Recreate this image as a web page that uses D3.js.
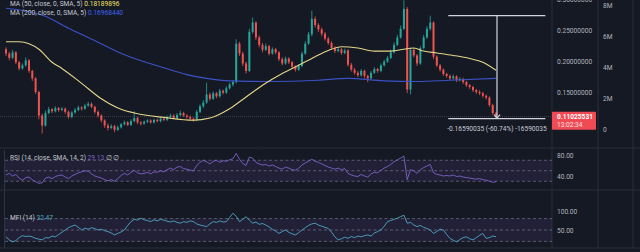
<!DOCTYPE html>
<html>
<head>
<meta charset="utf-8">
<script src="https://cdn.jsdelivr.net/npm/d3@7"></script>
<style>
  html, body { margin: 0; padding: 0; background: #151924; }
  svg { display: block; font-family: Roboto, "Noto Sans", sans-serif; }
</style>
</head>
<body>
<div id="chart"></div>
<script>
// candles: open of each bar is the previous close
var firstOpen = 0.219;
var closes = [
  0.212,0.205,0.214,0.198,0.188,0.193,0.201,0.184,0.172,0.150,
  0.112,0.096,0.116,0.122,0.119,0.124,0.121,0.123,0.118,0.110,
  0.117,0.121,0.125,0.123,0.128,0.131,0.126,0.118,0.112,0.104,
  0.096,0.092,0.095,0.089,0.093,0.098,0.101,0.097,0.103,0.108,
  0.101,0.099,0.102,0.104,0.101,0.105,0.103,0.107,0.105,0.109,
  0.112,0.108,0.113,0.116,0.112,0.110,0.107,0.104,0.118,0.127,
  0.133,0.146,0.139,0.148,0.143,0.152,0.149,0.156,0.162,0.166,
  0.228,0.212,0.196,0.184,0.247,0.262,0.238,0.226,0.218,0.224,
  0.212,0.219,0.214,0.203,0.196,0.204,0.198,0.191,0.186,0.192,
  0.212,0.228,0.243,0.268,0.258,0.251,0.244,0.236,0.229,0.221,
  0.216,0.219,0.213,0.217,0.194,0.186,0.181,0.177,0.184,0.176,
  0.172,0.181,0.187,0.184,0.193,0.199,0.205,0.214,0.226,0.238,
  0.252,0.284,0.154,0.218,0.209,0.196,0.221,0.238,0.252,0.262,
  0.207,0.193,0.186,0.179,0.176,0.172,0.175,0.169,0.171,0.166,
  0.161,0.158,0.153,0.150,0.148,0.144,0.141,0.129,0.116,0.1103
];
var highs = [
  0.222,0.215,0.218,0.216,0.200,0.196,0.206,0.203,0.186,0.174,
  0.152,0.115,0.120,0.126,0.124,0.127,0.126,0.126,0.125,0.120,
  0.119,0.124,0.128,0.127,0.131,0.134,0.133,0.128,0.120,0.114,
  0.106,0.099,0.098,0.097,0.096,0.100,0.104,0.103,0.106,0.119,
  0.110,0.103,0.104,0.106,0.106,0.107,0.107,0.110,0.109,0.112,
  0.115,0.114,0.116,0.120,0.118,0.114,0.112,0.109,0.121,0.130,
  0.137,0.165,0.149,0.151,0.150,0.155,0.154,0.159,0.165,0.169,
  0.235,0.231,0.215,0.199,0.252,0.270,0.264,0.241,0.229,0.228,
  0.226,0.222,0.221,0.216,0.206,0.207,0.206,0.200,0.193,0.195,
  0.215,0.232,0.247,0.281,0.272,0.261,0.254,0.247,0.239,0.232,
  0.224,0.222,0.221,0.220,0.219,0.197,0.189,0.184,0.187,0.186,
  0.178,0.184,0.190,0.189,0.196,0.202,0.208,0.218,0.230,0.242,
  0.257,0.298,0.287,0.222,0.221,0.211,0.224,0.242,0.256,0.273,
  0.264,0.209,0.195,0.188,0.181,0.178,0.178,0.177,0.174,0.173,
  0.168,0.163,0.160,0.155,0.153,0.150,0.146,0.143,0.131,0.118
];
var lows = [
  0.208,0.201,0.203,0.195,0.185,0.186,0.191,0.181,0.168,0.147,
  0.106,0.083,0.094,0.114,0.116,0.117,0.118,0.119,0.115,0.107,
  0.108,0.115,0.119,0.120,0.121,0.126,0.124,0.115,0.109,0.101,
  0.092,0.088,0.090,0.085,0.087,0.091,0.096,0.095,0.095,0.101,
  0.098,0.096,0.097,0.100,0.099,0.099,0.101,0.101,0.103,0.103,
  0.107,0.106,0.106,0.111,0.110,0.107,0.105,0.102,0.103,0.116,
  0.124,0.131,0.136,0.137,0.140,0.141,0.146,0.147,0.154,0.159,
  0.164,0.208,0.192,0.180,0.182,0.244,0.234,0.222,0.214,0.216,
  0.209,0.210,0.211,0.200,0.193,0.194,0.195,0.188,0.183,0.184,
  0.190,0.210,0.226,0.240,0.254,0.247,0.240,0.233,0.226,0.218,
  0.213,0.214,0.210,0.211,0.191,0.183,0.178,0.174,0.175,0.172,
  0.166,0.170,0.179,0.181,0.182,0.191,0.197,0.203,0.212,0.224,
  0.236,0.250,0.148,0.146,0.206,0.192,0.194,0.219,0.236,0.249,
  0.203,0.190,0.183,0.176,0.173,0.169,0.170,0.166,0.167,0.163,
  0.158,0.155,0.150,0.147,0.145,0.141,0.138,0.126,0.113,0.108
];

// moving averages, [bar index, value]
var ma50 = [[0,0.231],[4,0.231],[7,0.228],[10,0.219],[14,0.198],[17,0.188],[23,0.164],[29,0.139],
  [35,0.122],[40,0.115],[48,0.109],[57,0.1045],[62,0.108],[68,0.123],[73,0.142],[78,0.161],
  [84,0.180],[89,0.193],[94,0.207],[98,0.217],[102,0.223],[107,0.221],[112,0.216],[117,0.216],
  [121,0.219],[124,0.221],[127,0.216],[131,0.213],[136,0.209],[141,0.204],[145,0.198],[149,0.185]];
var ma200 = [[0,0.285],[12,0.272],[19,0.253],[25,0.238],[36,0.210],[48,0.189],[55,0.178],
  [61,0.172],[68,0.168],[80,0.167],[95,0.169],[104,0.172],[115,0.168],[125,0.167],[135,0.169],[149,0.172]];

var rsiValues = [
  42,45,40,43,36,32,37,38,33,29, 26,27,36,38,35,39,41,42,38,35,
  40,43,46,48,50,49,44,40,38,36, 33,31,33,30,35,41,45,42,47,51,
  46,44,45,47,44,48,47,50,48,52, 55,52,57,58,54,53,51,50,60,66,
  70,67,63,68,70,66,69,68,71,73, 83,72,64,60,76,74,66,63,61,62,
  59,61,58,55,53,57,55,52,51,55, 61,65,68,72,68,66,63,60,57,55,
  53,55,52,54,45,42,40,39,43,40, 38,44,47,46,51,55,58,62,67,71,
  74,78,33,52,50,45,52,56,59,62, 46,43,42,40,41,40,42,39,40,38,
  37,36,35,34,35,33,32,30,28,29.13
];
var mfiValues = [
  32,24,19,22,30,35,33,34,32,28, 26,24,30,29,34,32,38,44,50,56,
  60,63,57,50,55,52,56,54,50,52, 48,46,42,37,41,45,50,62,72,78,
  76,81,77,75,72,77,74,78,76,73, 71,74,70,68,72,70,74,72,66,63,
  61,59,66,72,70,74,71,72,83,94, 86,72,78,85,76,68,71,65,67,63,
  58,52,47,41,46,50,44,40,37,43, 50,56,62,66,68,63,60,57,54,44,
  32,24,27,31,28,33,30,34,32,35, 37,34,42,46,50,60,72,75,78,81,
  85,89,68,70,63,59,62,57,54,50, 41,46,52,50,38,28,23,19,25,30,
  32,27,24,30,36,41,28,30,34,32.47
];

var priceTicks = [0.30, 0.25, 0.20, 0.15];
var volumeTicks = [0, 2e6, 4e6, 6e6, 8e6];
var volumeLabels = ["0", "2M", "4M", "6M", "8M"];
var rsiTicks = [80, 40];
var rsiLevels = [70, 50, 30];
var mfiTicks = [100, 50];
var mfiLevels = [80, 50, 20];

var lastPrice = 0.11025531;
var lastTime = "13:02:34";
var measureTop = 0.2731, measureBottom = 0.1072;
var measureBars = [134.5, 149.3, 164];
var measureText = "-0.16590035 (-60.74%) -16590035";

var W = 640, H = 252, plotR = 552, fs = 6.6;
var bg = "#151924", line = "#2a2e39", axisText = "#b2b5be";
var up = "#26a69a", down = "#ef5350";

var svg = d3.select("#chart").append("svg").attr("width", W).attr("height", H);
svg.append("rect").attr("width", W).attr("height", H).attr("fill", bg);

var x = d3.scaleLinear().domain([0, closes.length - 1]).range([6, 496]);
var y = d3.scaleLinear().domain([0.15, 0.25]).range([92, 30]);
var yVol = d3.scaleLinear().domain([0, 2e6]).range([129, 98]);
var yRsi = d3.scaleLinear().domain([40, 80]).range([176, 155]);
var yMfi = d3.scaleLinear().domain([50, 100]).range([230, 211]);

// separators
[552, 598, 633].forEach(function(v) {
  svg.append("line").attr("x1", v).attr("x2", v).attr("y1", 0).attr("y2", 248)
    .attr("stroke", line).attr("stroke-width", 1);
});
[148, 190, 248].forEach(function(v) {
  svg.append("line").attr("x1", 0).attr("x2", W).attr("y1", v).attr("y2", v)
    .attr("stroke", line).attr("stroke-width", 1);
});
svg.append("line").attr("x1", 4.5).attr("x2", 4.5).attr("y1", 150).attr("y2", 248)
  .attr("stroke", "#2f3441");

svg.append("clipPath").attr("id", "pc").append("rect").attr("width", plotR).attr("height", 147);
var pg = svg.append("g").attr("clip-path", "url(#pc)");

// last price line
pg.append("line").attr("x1", 0).attr("x2", plotR).attr("y1", y(lastPrice)).attr("y2", y(lastPrice))
  .attr("stroke", "rgba(200,200,210,0.22)").attr("stroke-dasharray", "1,1");

var candles = closes.map(function(c, i) {
  return { i: i, o: i ? closes[i - 1] : firstOpen, c: c, h: highs[i], l: lows[i] };
});

var cg = pg.selectAll("g.c").data(candles).enter().append("g");
cg.append("line")
  .attr("x1", function(d) { return x(d.i); }).attr("x2", function(d) { return x(d.i); })
  .attr("y1", function(d) { return y(d.h); }).attr("y2", function(d) { return y(d.l); })
  .attr("stroke", function(d) { return d.c >= d.o ? up : down; }).attr("stroke-width", 0.8);
cg.append("rect")
  .attr("x", function(d) { return x(d.i) - 1; }).attr("width", 2)
  .attr("y", function(d) { return y(Math.max(d.o, d.c)); })
  .attr("height", function(d) { return Math.max(0.8, Math.abs(y(d.o) - y(d.c))); })
  .attr("fill", function(d) { return d.c >= d.o ? up : down; });

var maLine = d3.line().x(function(d) { return x(d[0]); }).y(function(d) { return y(d[1]); })
  .curve(d3.curveMonotoneX);
pg.append("path").attr("d", maLine(ma200)).attr("fill", "none").attr("stroke", "#3a52c4").attr("stroke-width", 1.1);
pg.append("path").attr("d", maLine(ma50)).attr("fill", "none").attr("stroke", "#e3d58a").attr("stroke-width", 1.1);

// measure tool
var mStroke = "#d1d4dc";
[measureTop, measureBottom].forEach(function(p) {
  pg.append("line").attr("x1", x(measureBars[0])).attr("x2", x(measureBars[2]))
    .attr("y1", y(p)).attr("y2", y(p)).attr("stroke", mStroke).attr("stroke-width", 1.2);
});
pg.append("line").attr("x1", x(measureBars[1])).attr("x2", x(measureBars[1]))
  .attr("y1", y(measureTop)).attr("y2", y(measureBottom) - 1).attr("stroke", mStroke).attr("stroke-width", 1.2);
pg.append("path")
  .attr("d", "M" + (x(measureBars[1]) - 3) + "," + (y(measureBottom) - 4) + "L" + x(measureBars[1]) + "," +
    (y(measureBottom) - 0.5) + "L" + (x(measureBars[1]) + 3) + "," + (y(measureBottom) - 4))
  .attr("fill", "none").attr("stroke", mStroke).attr("stroke-width", 1.2);
pg.append("text").attr("x", x(measureBars[1])).attr("y", y(measureBottom) + 12)
  .attr("text-anchor", "middle").attr("font-size", fs).attr("fill", "#c8cbd3").text(measureText);

// axes
function styleAxis(g) {
  g.select(".domain").remove();
  g.selectAll("text").attr("fill", axisText).attr("font-size", fs).attr("font-family", "Roboto, sans-serif");
}
svg.append("g").attr("transform", "translate(" + plotR + ",0)")
  .call(d3.axisRight(y).tickValues(priceTicks).tickFormat(d3.format(".8f")).tickSize(0).tickPadding(5))
  .call(styleAxis);
svg.append("g").attr("transform", "translate(598,0)")
  .call(d3.axisRight(yVol).tickValues(volumeTicks).tickFormat(function(d, i) { return volumeLabels[i]; })
    .tickSize(0).tickPadding(5))
  .call(styleAxis);
svg.append("g").attr("transform", "translate(" + plotR + ",0)")
  .call(d3.axisRight(yRsi).tickValues(rsiTicks).tickFormat(d3.format(".2f")).tickSize(0).tickPadding(5))
  .call(styleAxis);
svg.append("g").attr("transform", "translate(" + plotR + ",0)")
  .call(d3.axisRight(yMfi).tickValues(mfiTicks).tickFormat(d3.format(".2f")).tickSize(0).tickPadding(5))
  .call(styleAxis);

// last price label
var ly = y(lastPrice);
svg.append("rect").attr("x", plotR).attr("y", ly - 5).attr("width", 44).attr("height", 18)
  .attr("fill", "#f04a55").attr("rx", 1);
svg.append("text").attr("x", plotR + 5).attr("y", ly + 2.3).attr("font-size", fs).attr("font-weight", "bold")
  .attr("fill", "#fff").text(d3.format(".8f")(lastPrice));
svg.append("text").attr("x", plotR + 5).attr("y", ly + 10.5).attr("font-size", fs)
  .attr("fill", "#ffe1e1").text(lastTime);

// oscillator panes
function pane(scale, levels, values, color) {
  svg.append("rect").attr("x", 5).attr("width", plotR - 5)
    .attr("y", scale(levels[0])).attr("height", scale(levels[2]) - scale(levels[0]))
    .attr("fill", "rgba(126,87,194,0.12)");
  levels.forEach(function(v) {
    svg.append("line").attr("x1", 5).attr("x2", plotR).attr("y1", scale(v)).attr("y2", scale(v))
      .attr("stroke", "rgba(170,170,195,0.55)").attr("stroke-dasharray", "3,2.5").attr("stroke-width", 0.8);
  });
  svg.append("path")
    .attr("d", d3.line().x(function(d, i) { return x(i); }).y(function(d) { return scale(d); })(values))
    .attr("fill", "none").attr("stroke", color).attr("stroke-width", 0.9);
}
pane(yRsi, rsiLevels, rsiValues, "#7e63c8");
pane(yMfi, mfiLevels, mfiValues, "#4fa8c4");

// legends
function legend(yy, parts) {
  var t = svg.append("text").attr("x", 10).attr("y", yy).attr("font-size", fs);
  parts.forEach(function(p) {
    t.append("tspan").attr("fill", p[1]).text(p[0]);
  });
}
legend(5.5, [["MA (50, close, 0, SMA, 5)  ", "#c4c7cf"], ["0.18189896", "#f2e36b"]]);
legend(14.5, [["MA (200, close, 0, SMA, 5)  ", "#c4c7cf"], ["0.16968440", "#3f63f0"]]);
legend(160, [["RSI (14, close, SMA, 14, 2)  ", "#c4c7cf"], ["29.13", "#7e63c8"], ["  ∅  ∅", "#c4c7cf"]]);
legend(219.5, [["MFI (14)  ", "#c4c7cf"], ["32.47", "#4fa8c4"]]);
</script>
</body>
</html>
